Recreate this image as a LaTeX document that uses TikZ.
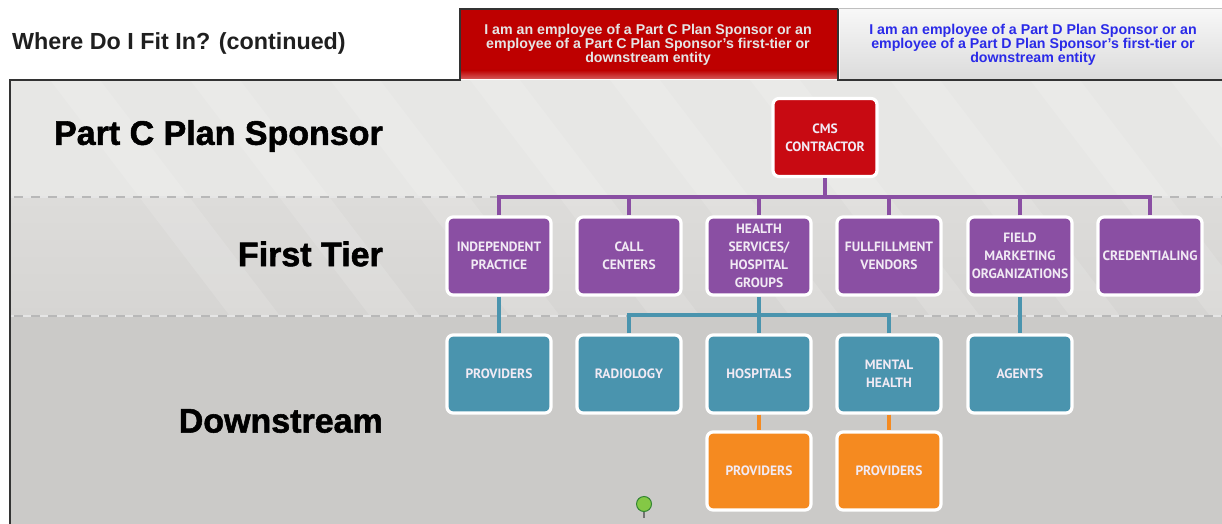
\documentclass[tikz,border=0pt]{standalone}
\usepackage{fontspec}
\setmainfont{Liberation Sans}
\newfontfamily\boxfont{PT Sans}
\newfontfamily\heavyfont[FakeBold=1.6]{Liberation Sans Bold}
\usetikzlibrary{calc}
\definecolor{cred}{HTML}{C80A12}
\definecolor{cpurple}{HTML}{8A4FA3}
\definecolor{cteal}{HTML}{4A94AE}
\definecolor{corange}{HTML}{F58A20}
\definecolor{tabred}{HTML}{BE0000}
\definecolor{tabblue}{HTML}{2A2AE8}
\definecolor{bandA}{HTML}{E7E7E5}
\definecolor{bandB}{HTML}{DDDCDA}
\definecolor{bandBt}{HTML}{D6D5D3}
\definecolor{bandC}{HTML}{CBCAC8}
\definecolor{pingreen}{HTML}{84C845}
\tikzset{
  x=1pt,y=-1pt,
  orgbox/.style={draw=white,line width=3.2pt,rounded corners=6pt,minimum width=104pt,minimum height=78pt,inner sep=0pt,align=center,text=white!88!cpurple,
    font=\boxfont\bfseries\fontsize{13.5}{18}\selectfont},
  redbox/.style={orgbox,fill=cred},
  purplebox/.style={orgbox,fill=cpurple},
  tealbox/.style={orgbox,fill=cteal},
  orangebox/.style={orgbox,fill=corange},
  bandlabel/.style={font=\heavyfont\fontsize{34}{37}\selectfont,text=black,anchor=east,inner sep=0pt},
  tabtext/.style={font=\bfseries\fontsize{14.2}{12.8}\selectfont,align=center,inner sep=0pt},
  sepline/.style={line width=1.5pt,dash pattern=on 9pt off 8pt},
  purplelink/.style={draw=cpurple,line width=3.2pt},
  teallink/.style={draw=cteal,line width=3.2pt},
  orangelink/.style={draw=corange,line width=3.2pt},
}
\begin{document}
\begin{tikzpicture}
\useasboundingbox (0,0) rectangle (1222,524);
\fill[white] (0,0) rectangle (1222,524);
% bands
\fill[bandA] (10,80) rectangle (1222,197);
\shade[top color=bandB,bottom color=bandBt] (10,197) rectangle (1222,316);
\fill[bandC] (10,316) rectangle (1222,524);
% faint diagonal stripes
\begin{scope}
\clip (10,80) rectangle (1222,316);
\foreach \s in {50,190,330,470,610,750,890,1030,1170}{
  \fill[white,opacity=.13] (\s,80) -- (\s+50,80) -- (\s+230,316) -- (\s+180,316) -- cycle;
}
\end{scope}
% separators
\draw[white!90!black,line width=2.4pt] (10,197) -- (1222,197);
\draw[white!90!black,line width=2.4pt] (10,316) -- (1222,316);
\draw[sepline,black!28] (14,197) -- (1222,197);
\draw[sepline,black!28] (14,316) -- (1222,316);
% tabs
\fill[tabred] (461,9) rectangle (838,79);
\shade[top color=tabred,bottom color=tabred!65!white] (461,70) rectangle (838,79);
\shade[top color=white!97!black,bottom color=black!14] (840,9) rectangle (1222,79);
\draw[black!80,line width=1.6pt] (10,524) -- (10,80) -- (460,80) -- (460,9) -- (838,9) -- (838,80) -- (1222,80);
\draw[black!25,line width=1pt] (838,9) -- (1222,9);
% titles
\node[anchor=west,inner sep=0pt,font=\bfseries\fontsize{23.3}{26}\selectfont,text=black!88] (title) at (12,43) {Where Do I Fit In? (continued)};
\node[tabtext,text=white!90!black] (tabc) at (648,45) {I am an employee of a Part C Plan Sponsor or an\\employee of a Part C Plan Sponsor's first-tier or\\downstream entity};
\node[tabtext,text=tabblue] (tabd) at (1033,45) {I am an employee of a Part D Plan Sponsor or an\\employee of a Part D Plan Sponsor's first-tier or\\downstream entity};
% band labels
\node[bandlabel] (lc) at (383,136) {Part C Plan Sponsor};
\node[bandlabel] (lf) at (383,254) {First Tier};
\node[bandlabel] (ld) at (383,421) {Downstream};
% boxes
\node[redbox] (cms) at (825,137.5) {CMS\\CONTRACTOR};
\node[purplebox] (ip) at (499,256) {INDEPENDENT\\PRACTICE};
\node[purplebox] (cc) at (629,256) {CALL\\CENTERS};
\node[purplebox] (hs) at (759,256) {HEALTH\\SERVICES/\\HOSPITAL\\GROUPS};
\node[purplebox] (fv) at (889,256) {FULLFILLMENT\\VENDORS};
\node[purplebox] (fm) at (1020,256) {FIELD\\MARKETING\\ORGANIZATIONS};
\node[purplebox] (cr) at (1150,256) {CREDENTIALING};
\node[tealbox] (pr) at (499,374) {PROVIDERS};
\node[tealbox] (ra) at (629,374) {RADIOLOGY};
\node[tealbox] (ho) at (759,374) {HOSPITALS};
\node[tealbox] (mh) at (889,374) {MENTAL\\HEALTH};
\node[tealbox] (ag) at (1020,374) {AGENTS};
\node[orangebox] (p1) at (759,471) {PROVIDERS};
\node[orangebox] (p2) at (889,471) {PROVIDERS};
% connectors
\coordinate (busp) at (825,197);
\coordinate (bust) at (759,315);
\draw[purplelink] (cms.south) -- (busp);
\draw[purplelink] (ip.north) |- (busp);
\draw[purplelink] (cc.north) |- (busp);
\draw[purplelink] (hs.north) |- (busp);
\draw[purplelink] (fv.north) |- (busp);
\draw[purplelink] (fm.north) |- (busp);
\draw[purplelink] (cr.north) |- (busp);
\draw[teallink] (ip.south) -- (pr.north);
\draw[teallink] (hs.south) -- (ho.north);
\draw[teallink] (fm.south) -- (ag.north);
\draw[teallink] (ra.north) |- (bust);
\draw[teallink] (mh.north) |- (bust);
\draw[orangelink] (ho.south) -- (p1.north);
\draw[orangelink] (mh.south) -- (p2.north);
% green pin
\coordinate (pintip) at (644,518);
\draw[black!55,line width=1.2pt] (644,510) -- (pintip);
\node[circle,fill=pingreen,draw=green!40!black!80,line width=1pt,minimum size=15pt,inner sep=0pt] (pin) at (644,504) {};
\end{tikzpicture}
\end{document}
